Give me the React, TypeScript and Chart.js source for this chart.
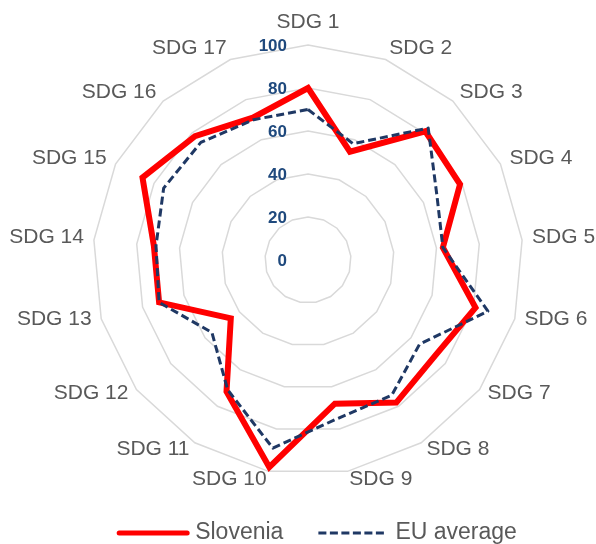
import React, { useEffect, useRef } from "react";
import { Chart, registerables } from "chart.js";

Chart.register(...registerables);

const categories = [
  "SDG 1", "SDG 2", "SDG 3", "SDG 4", "SDG 5", "SDG 6", "SDG 7", "SDG 8", "SDG 9",
  "SDG 10", "SDG 11", "SDG 12", "SDG 13", "SDG 14", "SDG 15", "SDG 16", "SDG 17",
];
const slovenia = [80, 54, 81, 79, 63, 81, 74, 78, 68, 98, 72, 45, 72, 72, 86, 78, 71];
const euAverage = [70, 58, 83, 67, 63, 87, 65, 74, 75, 89, 71, 56, 72, 71, 75, 74, 70];
const tickValues = [0, 20, 40, 60, 80, 100];
const seriesNames = ["Slovenia", "EU average"];

const W = 596;
const H = 544;
const CX = 308;
const CY = 260;
const RADIUS = 215;
const LABEL_FONT = '21px "Liberation Sans", Arial, sans-serif';
const TICK_FONT = 'bold 17px "Liberation Sans", Arial, sans-serif';
const LEGEND_FONT = '23px "Liberation Sans", Arial, sans-serif';
const GREY_TEXT = "#595959";
const TICK_BLUE = "#1F497D";
const RED = "#FF0000";
const NAVY = "#1F3864";

const overlayPlugin = {
  id: "overlay",
  afterDraw(chart: any) {
    const ctx = chart.ctx;
    const scale = chart.scales.r;
    ctx.save();
    // point labels
    ctx.font = LABEL_FONT;
    ctx.fillStyle = GREY_TEXT;
    ctx.textBaseline = "middle";
    categories.forEach((lab, i) => {
      const p = scale.getPointPosition(i, scale.drawingArea + 10);
      const dx = p.x - scale.xCenter;
      let x = p.x;
      let y = p.y - 2;
      if (Math.abs(dx) < 2) {
        ctx.textAlign = "center";
        y = p.y - 13;
      } else if (dx > 0) {
        ctx.textAlign = "left";
      } else {
        ctx.textAlign = "right";
      }
      ctx.fillText(lab, x, y);
    });
    // tick labels
    ctx.font = TICK_FONT;
    ctx.fillStyle = TICK_BLUE;
    ctx.textAlign = "right";
    ctx.textBaseline = "middle";
    tickValues.forEach((v) => {
      const d = scale.getDistanceFromCenterForValue(v);
      ctx.fillText(String(v), scale.xCenter - 21, scale.yCenter - d + 1);
    });
    // legend
    ctx.font = LEGEND_FONT;
    const ly = 533;
    const lineLen = 72;
    const tw0 = ctx.measureText(seriesNames[0]).width;
    const tw1 = ctx.measureText(seriesNames[1]).width;
    const total = lineLen + 6 + tw0 + 35 + 69 + 8 + tw1;
    let x = 317 - total / 2;
    ctx.strokeStyle = RED;
    ctx.lineWidth = 5;
    ctx.lineCap = "round";
    ctx.setLineDash([]);
    ctx.beginPath();
    ctx.moveTo(x + 2, ly);
    ctx.lineTo(x + lineLen - 2, ly);
    ctx.stroke();
    x += lineLen + 6;
    ctx.fillStyle = GREY_TEXT;
    ctx.textAlign = "left";
    ctx.textBaseline = "middle";
    ctx.fillText(seriesNames[0], x, ly);
    x += tw0 + 35;
    ctx.strokeStyle = NAVY;
    ctx.lineWidth = 3;
    ctx.lineCap = "butt";
    ctx.setLineDash([8, 3.5]);
    ctx.beginPath();
    ctx.moveTo(x, ly);
    ctx.lineTo(x + 69, ly);
    ctx.stroke();
    ctx.setLineDash([]);
    x += 69 + 8;
    ctx.fillText(seriesNames[1], x, ly);
    ctx.restore();
  },
};

export default function App() {
  const canvasRef = useRef<HTMLCanvasElement | null>(null);

  useEffect(() => {
    const canvas = canvasRef.current;
    if (!canvas) return;
    const chart = new Chart(canvas, {
      type: "radar",
      data: {
        labels: categories,
        datasets: [
          {
            label: seriesNames[1],
            data: euAverage,
            borderColor: NAVY,
            borderWidth: 3,
            borderDash: [8, 4],
            borderJoinStyle: "round",
            fill: false,
            pointRadius: 0,
            tension: 0,
          },
          {
            label: seriesNames[0],
            data: slovenia,
            borderColor: RED,
            borderWidth: 6,
            borderJoinStyle: "miter",
            fill: false,
            pointRadius: 0,
            tension: 0,
          },
        ],
      },
      options: {
        responsive: false,
        animation: false,
        events: [],
        plugins: {
          legend: { display: false },
          tooltip: { enabled: false },
        },
        scales: {
          r: {
            min: 0,
            max: 100,
            beginAtZero: true,
            ticks: { display: false, stepSize: 20 },
            pointLabels: { display: false },
            angleLines: { display: false },
            grid: { circular: false, color: "#D9D9D9", lineWidth: 1.5 },
            afterFit: (scale: any) => {
              scale.xCenter = CX;
              scale.yCenter = CY;
              scale.drawingArea = RADIUS;
            },
          },
        },
      },
      plugins: [overlayPlugin],
    } as any);
    return () => chart.destroy();
  }, []);

  return (
    <div style={{ position: "absolute", left: 0, top: 0, width: W, height: H, background: "#fff" }}>
      <canvas ref={canvasRef} width={W} height={H} style={{ display: "block" }} />
    </div>
  );
}
